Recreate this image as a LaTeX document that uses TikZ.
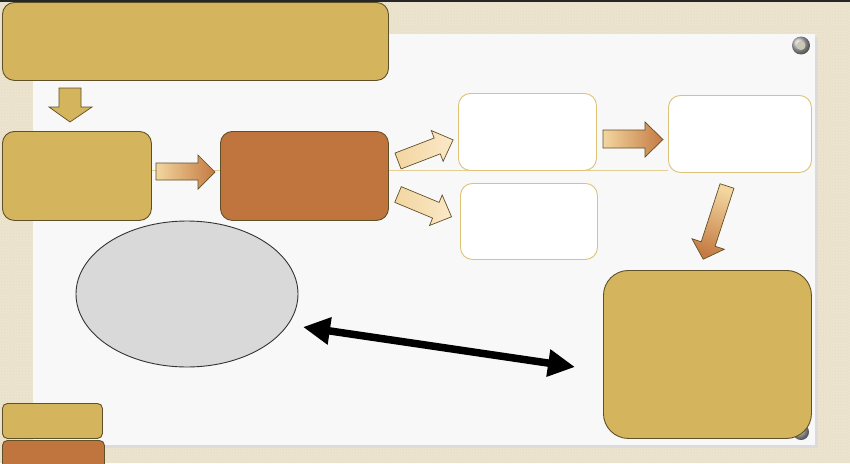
\documentclass[tikz,border=0pt]{standalone}
\usetikzlibrary{arrows.meta,shapes.geometric,patterns}
\definecolor{linen}{RGB}{236,228,206}
\definecolor{linendark}{RGB}{214,202,170}
\definecolor{paper}{RGB}{248,248,248}
\definecolor{gold}{RGB}{212,180,92}
\definecolor{rust}{RGB}{192,116,62}
\definecolor{edge}{RGB}{96,80,40}
\definecolor{tan}{RGB}{222,194,120}
\definecolor{ltan}{RGB}{243,214,160}
\definecolor{lltan}{RGB}{250,232,200}
\definecolor{brownend}{RGB}{196,122,66}
\definecolor{ellfill}{RGB}{217,217,217}
\tikzset{
  box/.style={draw=edge, line width=0.9pt, rounded corners=12pt, anchor=north west, inner sep=0pt},
  goldbox/.style={box, fill=gold},
  rustbox/.style={box, fill=rust},
  whitebox/.style={draw=tan, line width=0.9pt, fill=white, rounded corners=12pt, anchor=north west, inner sep=0pt},
  barrow/.style={draw=edge, line width=0.7pt, line join=miter},
  grommet/.style={ball color=gray!50},
}
\begin{document}
\begin{tikzpicture}[x=1pt,y=-1pt]
\useasboundingbox (0,0) rectangle (850,463);
\clip (0,0) rectangle (850,463);
% background linen
\fill[linen] (0,0) rectangle (850,463);
\fill[pattern=crosshatch dots, pattern color=linendark, opacity=0.35] (0,0) rectangle (850,463);
\fill[black!85] (0,0) rectangle (850,1.6);
% paper sheet
\fill[black!14] (35,37) rectangle (818,448);
\fill[paper] (33,34) rectangle (815,445);
% grommets
\shade[grommet] (801,45.5) circle (9);
\fill[gray!30!linen] (801,45.5) circle (4.5);
\shade[grommet] (801,432) circle (8);
% thin guide line
\draw[tan!80, line width=0.8pt] (151,170) -- (668,170);

% boxes
\node[goldbox, minimum width=386, minimum height=78] (top) at (2,2) {};
\node[goldbox, minimum width=149, minimum height=89] (left) at (2,131) {};
\node[rustbox, minimum width=168, minimum height=89] (mid) at (220,131) {};
\node[whitebox, minimum width=138, minimum height=77] (wa) at (458,93) {};
\node[whitebox, minimum width=137, minimum height=76] (wb) at (460,183) {};
\node[whitebox, minimum width=143, minimum height=77] (wc) at (668,95) {};
\node[goldbox, rounded corners=25pt, minimum width=208, minimum height=168] (big) at (603,270) {};
\node[draw=black!80, line width=0.9pt, fill=ellfill, ellipse, minimum width=222, minimum height=146] (ell) at (187,294) {};
\node[goldbox, rounded corners=5pt, minimum width=100, minimum height=35] (sa) at (2,403) {};
\node[rustbox, rounded corners=5pt, minimum width=102, minimum height=40] (sb) at (2,440) {};

% down block arrow (gold)
\path[barrow, fill=gold] (59,88) -- (81,88) -- (81,107) -- (92,107) -- (70,122) -- (49,107) -- (59,107) -- cycle;
% right block arrow left->mid
\path[barrow, left color=ltan, middle color=lltan, right color=brownend]
  (156,163) -- (198,163) -- (198,155) -- (215,172) -- (198,189) -- (198,180) -- (156,180) -- cycle;
% upper diagonal arrow
\begin{scope}[shift={(398,161)}, rotate=21]
\path[barrow, left color=ltan, right color=lltan]
  (0,-8.5) -- (42,-8.5) -- (42,-16.5) -- (59,0) -- (42,16.5) -- (42,8.5) -- (0,8.5) -- cycle;
\end{scope}
% lower diagonal arrow
\begin{scope}[shift={(398,194.5)}, rotate=-22.6]
\path[barrow, left color=ltan, right color=lltan]
  (0,-8.5) -- (41,-8.5) -- (41,-16.5) -- (58,0) -- (41,16.5) -- (41,8.5) -- (0,8.5) -- cycle;
\end{scope}
% right arrow wa->wc
\path[barrow, left color=ltan, middle color=lltan, right color=brownend]
  (603,130) -- (645,130) -- (645,122) -- (663,139.5) -- (645,157) -- (645,148) -- (603,148) -- cycle;
% diagonal down arrow wc->big
\begin{scope}[shift={(727,186)}, rotate=-108]
\path[barrow, top color=ltan, middle color=lltan, bottom color=brownend, shading angle=-19]
  (0,-7.3) -- (61,-7.3) -- (61,-17) -- (77,0) -- (61,17) -- (61,7.3) -- (0,7.3) -- cycle;
\end{scope}

% double arrow ellipse <-> big
\coordinate (d1) at (303,327);
\coordinate (d2) at (575,367);
\draw[black, line width=7.5pt, {Triangle[length=27pt,width=26pt]}-{Triangle[length=27pt,width=26pt]}] (d1) -- (d2);
\end{tikzpicture}
\end{document}
